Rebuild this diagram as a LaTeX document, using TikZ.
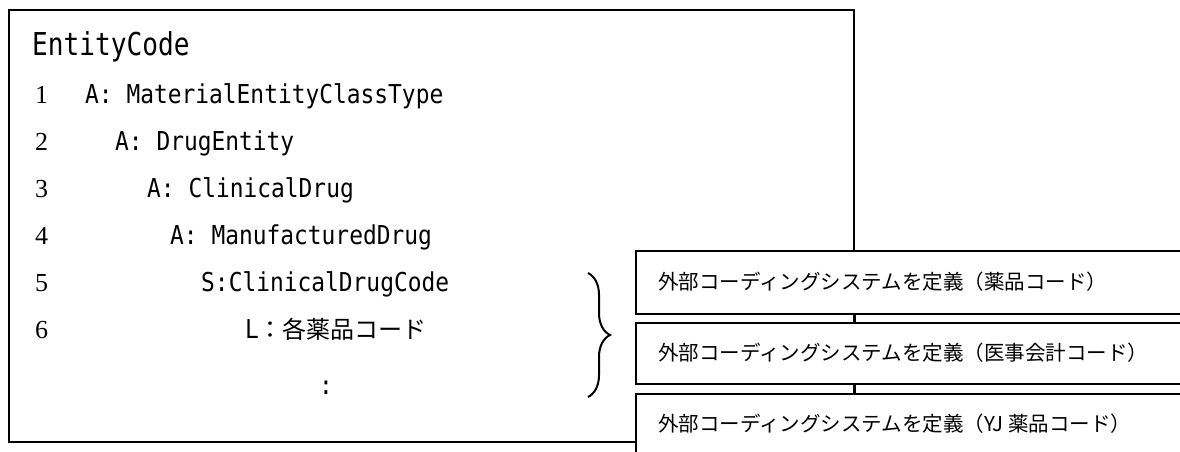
\documentclass[tikz,border=0pt]{standalone}
\usepackage{fontspec}
\usetikzlibrary{decorations.pathreplacing}
\newfontfamily\monofont[FakeStretch=0.88]{DejaVu Sans Mono}
\newfontfamily\titlefont[FakeStretch=0.83]{DejaVu Sans Mono}
\newfontfamily\digitfont{Liberation Serif}
\newfontfamily\jpfont{Noto Sans CJK JP}
\tikzset{
  mainbox/.style={draw, line width=2.2pt, inner sep=0pt, anchor=north west},
  codebox/.style={draw, line width=2.2pt, fill=white, inner sep=0pt, anchor=north west, minimum width=600pt},
  codetext/.style={anchor=west, inner sep=0pt, font=\jpfont\fontsize{20.5}{20.5}\selectfont},
  linetext/.style={anchor=base west, inner sep=0pt, font=\monofont\fontsize{26}{26}\selectfont},
  numtext/.style={anchor=base west, inner sep=0pt, font=\digitfont\fontsize{26}{26}\selectfont},
  bracestyle/.style={decorate, decoration={brace, amplitude=22pt}, line width=2pt}
}
\begin{document}
\begin{tikzpicture}[x=1pt, y=-1pt]
\useasboundingbox (0,0) rectangle (1180,452);
\clip (0,0) rectangle (1180,452);
% main box
\node[mainbox, minimum width=845pt, minimum height=432pt] (main) at (8,9) {};
% title and lines
\node[anchor=base west, inner sep=0pt, font=\titlefont\fontsize{31.5}{31.5}\selectfont] (title) at (32,56) {EntityCode};
\node[numtext] (n1) at (35,103) {1};
\node[numtext] (n2) at (35,150) {2};
\node[numtext] (n3) at (35,197) {3};
\node[numtext] (n4) at (35,244) {4};
\node[numtext] (n5) at (35,291) {5};
\node[numtext] (n6) at (35,338) {6};
\node[linetext] (l1) at (85,103) {A: MaterialEntityClassType};
\node[linetext] (l2) at (115,150) {A: DrugEntity};
\node[linetext] (l3) at (147,197) {A: ClinicalDrug};
\node[linetext] (l4) at (170,244) {A: ManufacturedDrug};
\node[linetext] (l5) at (201,291) {S:ClinicalDrugCode};
\node[anchor=base west, inner sep=0pt] (l6) at (245,338) {{\monofont\fontsize{26}{26}\selectfont L}{\jpfont\fontsize{24}{24}\selectfont ：各薬品コード}};
\node[anchor=center, inner sep=0pt, font=\monofont\fontsize{26}{26}\selectfont] (dots) at (326,388) {:};
% brace
\coordinate (bt) at (588,273);
\coordinate (bb) at (588,397);
\draw[bracestyle] (bt) -- (bb);
% coding boxes
\node[codebox, minimum height=63pt] (c1) at (635,250) {};
\node[codebox, minimum height=61pt] (c2) at (635,322) {};
\node[codebox, minimum height=80pt] (c3) at (635,393) {};
\node[codetext] (t1) at (658,282) {外部コーディングシステムを定義（薬品コード）};
\node[codetext] (t2) at (658,353) {外部コーディングシステムを定義（医事会計コード）};
\node[codetext] (t3) at (658,424) {外部コーディングシステムを定義（YJ 薬品コード）};
% main box right edge visible between coding boxes
\draw[line width=2.2pt] (main.north east |- c1.south) -- (main.north east |- c2.north);
\draw[line width=2.2pt] (main.north east |- c2.south) -- (main.north east |- c3.north);
\end{tikzpicture}
\end{document}
